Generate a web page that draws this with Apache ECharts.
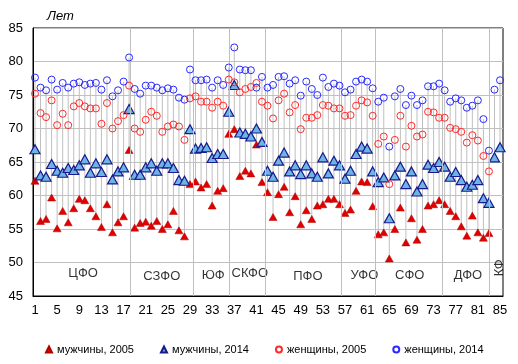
<!DOCTYPE html>
<html><head><meta charset="utf-8">
<script src="https://cdn.jsdelivr.net/npm/echarts@6/dist/echarts.min.js"></script>
<style>html,body{margin:0;padding:0;background:#fff}#c{width:518px;height:364px}</style>
</head><body><div id="c"></div>
<script>
const regions = [];
for (let r = 1; r <= 85; r++) regions.push(r);
const xTickLabels = [1,5,9,13,17,21,25,29,33,37,41,45,49,53,57,61,65,69,73,77,81,85];

const men2005 = [62.2,56.2,56.5,59.7,55.1,57.7,56.0,58.1,59.5,59.3,58.1,56.9,55.3,58.7,54.5,56.0,56.9,66.8,55.2,55.9,
  56.1,55.5,56.2,55.0,55.7,57.7,54.8,53.9,61.7,62.1,61.2,61.7,58.5,60.7,61.1,69.2,69.9,62.9,63.7,63.3,
  67.6,62.0,60.5,56.8,60.2,61.3,57.5,59.9,55.7,57.8,56.5,58.5,58.7,59.5,59.5,58.7,57.4,57.9,60.7,62.1,
  62.0,58.4,54.2,54.5,50.6,55.0,58.2,53.0,56.6,53.4,55.0,58.5,58.7,59.3,58.7,57.7,56.9,55.4,54.0,57.0,
  54.5,53.7,54.4,null,null];
const men2014 = [66.9,63.0,62.8,64.7,63.7,63.4,64.1,63.8,64.5,65.4,63.4,64.8,63.5,65.4,62.4,63.6,64.2,72.9,63.1,63.1,
  64.2,64.8,63.7,64.8,64.8,64.1,62.3,62.2,69.9,67.0,67.1,67.2,65.6,66.2,66.2,72.5,76.5,69.4,69.2,68.8,
  70.0,68.0,63.7,62.8,65.2,66.4,63.6,64.5,63.2,64.5,63.3,62.8,65.7,63.3,65.2,64.5,62.5,63.7,66.2,67.3,
  67.0,63.6,62.0,62.7,56.6,63.0,64.3,61.7,63.6,60.6,61.7,64.6,64.1,65.0,64.3,62.8,63.5,62.3,61.3,61.6,
  62.3,59.6,58.9,65.7,67.2];
const women2005 = [75.2,72.3,71.7,74.2,70.5,72.2,70.5,73.3,73.8,73.3,73.0,73.0,70.7,73.8,70.0,71.1,72.0,76.4,70.0,69.5,
  71.3,72.5,71.9,69.5,70.3,70.6,70.3,68.3,74.5,74.8,74.0,74.0,73.1,74.0,73.4,77.3,76.9,75.4,75.9,76.2,
  76.8,74.0,73.4,71.5,74.2,75.2,72.4,73.5,69.9,71.6,71.6,72.0,73.5,73.4,73.0,73.0,71.9,72.0,73.4,74.2,
  73.9,71.9,67.7,68.8,61.7,68.3,71.9,67.3,70.4,68.8,69.1,72.5,72.4,71.6,71.6,70.1,69.9,69.5,67.9,69.0,
  68.2,65.9,63.6,null,null];
const women2014 = [77.6,76.1,75.7,77.3,75.8,76.8,76.1,76.7,76.9,76.5,76.7,76.8,75.8,77.2,74.8,75.7,77.0,80.6,75.9,75.2,
  76.4,76.4,76.1,75.7,76.0,75.8,74.6,74.3,78.8,77.2,77.2,77.3,76.1,77.2,76.5,79.1,82.1,78.8,78.7,78.7,
  76.1,77.7,76.1,76.5,77.7,77.8,76.7,77.2,74.9,77.0,75.9,75.0,77.6,76.2,76.7,76.4,75.4,75.8,77.0,77.3,
  77.0,76.0,74.0,74.6,67.3,74.8,75.9,73.5,74.9,73.5,74.2,76.3,76.3,76.7,75.7,74.0,74.5,74.2,73.1,73.4,
  74.2,71.4,66.7,75.8,77.2];

const districtNames = ['ЦФО','СЗФО','ЮФ','СКФО','ПФО','УФО','СФО','ДФО','КФ'];
const districtLabelX = [9.7,23.9,33.2,39.8,50.3,60.5,68.7,79.2,84.9];
const districtLabelY = [48.3,47.9,48.1,48.3,47.9,48.0,48.0,48.0,49.2];
const districtBounds = [18.16,29.6,36.1,42.6,56.33,62.47,74.57,83.13];

const seriesNames = ['мужчины, 2005','мужчины, 2014','женщины, 2005','женщины, 2014'];

const FONT = 'Liberation Sans, Arial, sans-serif';
const pairs = arr => regions.map((r, i) => [r, arr[i]]);
const hiLo = regions.map((r, i) => {
  const v = [men2005[i], men2014[i], women2005[i], women2014[i]].filter(x => x != null);
  return [r, Math.min(...v), Math.max(...v)];
});

const chart = echarts.init(document.getElementById('c'), null, {renderer: 'canvas'});
chart.setOption({
  animation: false,
  backgroundColor: '#fff',
  textStyle: {fontFamily: FONT},
  grid: {left: 33, right: 15, top: 28, bottom: 68, show: true, borderColor: '#000', borderWidth: 1},
  legend: {
    left: 40, top: 339, itemGap: 26, itemWidth: 6, itemHeight: 6,
    textStyle: {fontSize: 11, color: '#000', fontFamily: FONT},
    data: [
      {name: seriesNames[0], icon: 'triangle'},
      {name: seriesNames[1], icon: 'triangle'},
      {name: seriesNames[2], icon: 'circle'},
      {name: seriesNames[3], icon: 'circle'}
    ]
  },
  xAxis: {
    type: 'value', min: 0.64, max: 85.54,
    axisLine: {show: true, lineStyle: {color: '#000', width: 1}},
    axisTick: {show: false},
    splitLine: {show: false},
    axisLabel: {customValues: xTickLabels, fontSize: 13, color: '#000', margin: 8, fontFamily: FONT}
  },
  yAxis: {
    type: 'value', min: 45, max: 85, interval: 5,
    name: 'Лет', nameLocation: 'end', nameGap: 5,
    nameTextStyle: {fontStyle: 'italic', fontSize: 13, color: '#000', align: 'left', padding: [0, 0, 0, 14], fontFamily: FONT},
    axisLine: {show: true, lineStyle: {color: '#000', width: 1}},
    axisTick: {show: false},
    splitLine: {show: true, lineStyle: {color: '#c0c0c0', width: 1}},
    axisLabel: {fontSize: 13, color: '#000', margin: 10, fontFamily: FONT}
  },
  series: [
    {
      type: 'custom', name: 'hilo', data: hiLo, silent: true, z: 1,
      encode: {x: 0, y: [1, 2]},
      renderItem: (params, api) => {
        const a = api.coord([api.value(0), api.value(1)]);
        const b = api.coord([api.value(0), api.value(2)]);
        return {type: 'line', shape: {x1: a[0], y1: a[1], x2: b[0], y2: b[1]}, style: {stroke: '#bfbfbf', lineWidth: 1}};
      },
      markLine: {
        silent: true, symbol: 'none', label: {show: false},
        lineStyle: {color: '#bfbfbf', width: 1, type: 'solid'},
        data: districtBounds.map(x => ({xAxis: x}))
      }
    },
    {
      type: 'scatter', name: 'districts', silent: true, z: 2, symbolSize: 0,
      data: districtNames.map((n, i) => ({
        name: n, value: [districtLabelX[i], districtLabelY[i]],
        label: n === 'КФ' ? {rotate: 90} : {}
      })),
      label: {show: true, position: [0, 0], align: 'center', verticalAlign: 'middle',
        formatter: p => p.name, fontSize: 13, color: '#000', fontFamily: FONT}
    },
    {
      type: 'scatter', name: seriesNames[0], data: pairs(men2005), z: 3,
      symbol: 'triangle', symbolSize: [8, 7],
      itemStyle: {color: '#e00000', borderColor: '#b00000', borderWidth: 0.5, opacity: 1}
    },
    {
      type: 'scatter', name: seriesNames[1], data: pairs(men2014), z: 4,
      symbol: 'triangle', symbolSize: [10, 9],
      itemStyle: {color: '#6cb4e6', borderColor: '#1a1a8c', borderWidth: 1.2, opacity: 1}
    },
    {
      type: 'scatter', name: seriesNames[2], data: pairs(women2005), z: 5,
      symbol: 'circle', symbolSize: 7,
      itemStyle: {color: 'rgba(255,255,255,0)', borderColor: '#ff2a2a', borderWidth: 1, opacity: 1}
    },
    {
      type: 'scatter', name: seriesNames[3], data: pairs(women2014), z: 6,
      symbol: 'circle', symbolSize: 7,
      itemStyle: {color: 'rgba(255,255,255,0)', borderColor: '#2a2aff', borderWidth: 1, opacity: 1}
    }
  ]
});
</script>
</body></html>
